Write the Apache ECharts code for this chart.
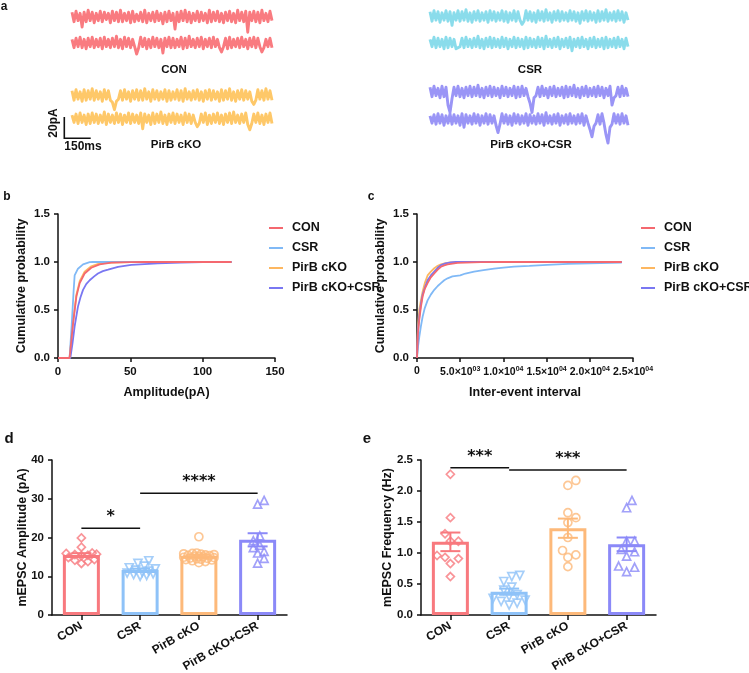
<!DOCTYPE html>
<html>
<head>
<meta charset="utf-8">
<script src="https://cdn.jsdelivr.net/npm/echarts/dist/echarts.min.js"></script>
<style>html,body{margin:0;padding:0;background:#fff}#main{width:749px;height:673px}</style>
</head>
<body>
<div id="main"></div>
<script>
var FONT = 'Liberation Sans, Arial, Helvetica, sans-serif';
var groups = ['CON', 'CSR', 'PirB cKO', 'PirB cKO+CSR'];

// panel a: example traces (pA), 100 samples each
var conTrace1 = [5,-4,6,-3,4,-9,5,-4,7,-3, 5,-5,4,-3,6,-4,5,-2,4,-5, 6,-3,5,-4,7,-4,4,-3,5,-5, 6,-4,3,-3,5,-4,7,-5,4,-3, 5,-4,6,-3,4,-6,5,-4,6,-3,
  4,-11,5,-4,6,-3,7,-4,5,-5, 4,-3,6,-4,5,-3,4,-5,7,-4, 5,-3,6,-4,4,-5,5,-3,6,-4, 4,-5,7,-3,5,-4,6,-14,5,-3, 6,-4,5,-5,7,-3,4,-4,6,-3];
var conTrace2 = [4,-4,5,-3,6,-4,4,-5,5,-3, 6,-4,4,-3,5,-5,6,-3,4,-4, 5,-3,7,-4,4,-5,6,-3,5,-4, 4,-3,-10,-4,6,-3,5,-5,4,-4, 6,-3,5,-4,4,-9,5,-3,6,-4,
  5,-4,4,-3,6,-5,5,-4,7,-3, 4,-4,5,-3,6,-5,4,-3,5,-4, 6,-3,4,-4,-8,-3,5,-5,6,-4, 4,-3,5,-4,6,-3,4,-5,5,-3, 6,-4,5,-3,-8,-4,4,-3,5,-4];
var ckoTrace1 = [5,-4,6,-3,4,-5,6,-4,5,-3, 7,-4,5,-3,4,-5,6,-3,5,-4, -6,-13,-5,-3,5,-4,6,-3,4,-5, 5,-3,6,-4,5,-4,7,-3,4,-5, 6,-3,5,-4,4,-3,6,-5,5,-4,
  4,-3,6,-4,5,-5,7,-3,4,-4, 5,-3,6,-4,4,-5,5,-3,6,-4, 5,-3,4,-5,6,-4,5,-3,7,-4, 4,-5,5,-3,6,-4,5,-3,4,-5, -8,-4,6,-3,5,-4,7,-3,5,-4];
var ckoTrace2 = [4,-3,5,-4,6,-3,4,-5,5,-4, 6,-3,5,-4,4,-3,7,-5,5,-3, 4,-4,6,-3,5,-5,4,-3,6,-4, 5,-3,4,-4,6,-9,5,-3,4,-5, 6,-4,5,-3,7,-4,4,-5,5,-3,
  6,-4,5,-3,4,-5,6,-3,5,-4, 4,-3,-7,-4,5,-3,6,-5,4,-4, 5,-3,6,-4,4,-5,5,-3,6,-4, 7,-3,4,-4,5,-3,6,-5,-10,-4, 5,-3,6,-4,4,-5,5,-3,6,-4];
var csrTrace1 = [5,-4,6,-3,5,-5,4,-3,6,-4, 5,-8,4,-3,6,-4,5,-3,7,-4, 4,-5,5,-3,6,-4,4,-3,5,-5, 6,-3,5,-4,4,-3,6,-4,5,-5, 4,-3,6,-4,5,-3,-7,-4,6,-3,
  5,-4,4,-5,6,-3,5,-4,7,-3, 4,-5,5,-3,6,-4,5,-3,4,-4, 6,-3,5,-4,4,-6,5,-3,6,-4, 5,-3,4,-5,6,-4,5,-3,7,-4, 4,-3,5,-4,6,-3,5,-5,4,-3];
var csrTrace2 = [4,-3,6,-4,5,-3,4,-5,6,-4, 5,-3,4,-5,-6,-3,5,-4,6,-3, 4,-4,5,-3,7,-4,4,-5,5,-3, 6,-4,5,-3,4,-4,6,-3,5,-5, 4,-3,6,-4,5,-3,4,-5,6,-4,
  5,-3,4,-4,6,-3,5,-5,7,-3, 4,-4,5,-3,6,-5,4,-3,5,-4, 6,-7,4,-3,5,-4,6,-3,4,-5, 5,-3,6,-4,4,-3,5,-5,6,-4, 4,-3,5,-4,6,-3,4,-5,5,-3];
var kcTrace1 = [5,-4,6,-3,4,-5,6,-4,5,-12, -19,-6,5,-3,6,-4,4,-5,5,-3, 6,-4,5,-3,7,-4,4,-5,5,-3, 6,-4,5,-3,4,-5,6,-3,5,-4, 4,-3,6,-5,5,-4,6,-3,4,-4,
  -10,-19,-5,-3,5,-4,6,-3,4,-5, 5,-3,6,-4,4,-3,5,-5,6,-4, 5,-3,7,-4,4,-5,5,-3,6,-4, 4,-3,5,-4,6,-3,5,-5,4,-3, 6,-12,-5,-3,5,-4,6,-3,4,-4];
var kcTrace2 = [4,-3,5,-4,6,-3,5,-5,4,-3, 6,-4,5,-3,4,-5,6,-7,5,-3, 4,-4,6,-3,5,-5,4,-3,6,-4, 5,-3,4,-5,-12,-4,6,-3,5,-4, 4,-5,6,-3,5,-4,4,-3,6,-5,
  5,-3,4,-4,6,-3,5,-5,7,-3, 4,-4,5,-3,6,-5,4,-3,5,-4, 6,-3,4,-4,5,-3,6,-5,4,-3, -9,-16,-6,-3,5,-4,6,-3,-14,-22, -7,-4,6,-3,5,-4,6,-3,4,-5];

// panel b: cumulative probability vs amplitude (pA)
var conAmp = [[0,0],[8,0],[10.4,0.36],[12.7,0.64],[15,0.78],[18.4,0.88],[23,0.94],[28.8,0.975],[36.9,0.993],[50,0.998],[60,1],[120,1]];
var csrAmp = [[0,0],[8,0],[9.5,0.35],[10.8,0.7],[11.5,0.86],[13.8,0.93],[17.3,0.975],[21.9,0.998],[24,1],[120,1]];
var ckoAmp = [[0,0],[8,0],[10.4,0.37],[12.7,0.66],[15,0.8],[18.4,0.9],[23,0.955],[28.8,0.985],[36.9,0.995],[50,1],[120,1]];
var kcAmp = [[0,0],[8.5,0],[10,0.15],[11.5,0.33],[13.8,0.535],[15.5,0.63],[17.3,0.71],[19.5,0.77],[21.9,0.81],[25,0.85],[27.6,0.88],[31,0.905],
  [34.6,0.92],[41.5,0.95],[50.7,0.97],[69,0.985],[85,0.993],[100,1],[120,1]];

// panel c: cumulative probability vs inter-event interval (ms)
var conIei = [[0,0],[100,0.25],[265,0.4],[450,0.53],[650,0.64],[900,0.72],[1225,0.78],[1600,0.84],[2000,0.88],[2400,0.92],[2770,0.95],[3150,0.965],
  [3540,0.975],[4690,0.99],[7400,0.998],[10000,1],[23700,1]];
var csrIei = [[0,0],[120,0.12],[265,0.22],[450,0.33],[650,0.43],[900,0.52],[1225,0.6],[1600,0.66],[2000,0.71],[2400,0.75],[2770,0.78],[3150,0.81],
  [3540,0.83],[4100,0.85],[5000,0.86],[5600,0.88],[6610,0.9],[7700,0.915],[8920,0.93],[10000,0.942],[11230,0.952],[13000,0.96],[15080,0.97],
  [17500,0.98],[20000,0.987],[23700,0.995]];
var ckoIei = [[0,0],[100,0.32],[265,0.5],[450,0.6],[650,0.69],[900,0.78],[1225,0.86],[1600,0.9],[2000,0.935],[2400,0.96],[2770,0.975],[3300,0.988],
  [3900,0.995],[5000,1],[23700,1]];
var kcIei = [[0,0],[100,0.27],[265,0.43],[450,0.56],[650,0.66],[900,0.73],[1225,0.81],[1600,0.86],[2000,0.9],[2400,0.94],[2770,0.968],[3300,0.985],
  [3900,0.995],[4500,1],[23700,1]];

// panel d: mEPSC amplitude (pA)
var ampMean = [15.5, 11.6, 15.3, 19.4];
var ampSem = [0.45, 0.35, 0.3, 1.7];
var ampCon = [19.9, 17.5, 16.0, 15.9, 15.7, 15.6, 15.4, 15.3, 14.8, 14.3, 14.1, 13.8, 13.3];
var ampCsr = [14.0, 13.3, 12.6, 12.2, 11.9, 11.6, 11.3, 11.0, 10.8, 10.6, 10.4, 10.2, 10.0];
var ampCko = [20.2, 16.0, 15.9, 15.8, 15.7, 15.6, 15.5, 15.4, 15.3, 15.2, 15.1, 15.0, 14.9, 14.8, 14.7, 14.6, 14.5, 14.4, 14.3, 14.2, 14.0, 13.8, 13.5];
var ampKc = [29.6, 28.6, 20.4, 19.2, 18.0, 17.4, 16.4, 16.0, 14.6, 13.4];
var ampSig = [[0, 1, 22.4, '*'], [1, 3, 31.4, '****']];

// panel e: mEPSC frequency (Hz)
var freqMean = [1.18, 0.376, 1.40, 1.14];
var freqSem = [0.15, 0.05, 0.155, 0.11];
var freqCon = [2.27, 1.57, 1.31, 1.19, 1.19, 0.96, 0.93, 0.91, 0.83, 0.62];
var freqCsr = [0.64, 0.62, 0.54, 0.45, 0.40, 0.33, 0.30, 0.27, 0.24, 0.22, 0.19, 0.16];
var freqCko = [2.17, 2.09, 1.65, 1.57, 1.49, 1.25, 1.04, 0.97, 0.93, 0.78];
var freqKc = [1.85, 1.73, 1.19, 1.19, 1.06, 1.02, 0.95, 0.79, 0.77, 0.70];
var freqSig = [[0, 1, 2.375, '***'], [1, 3, 2.34, '***']];

var traceColors = ['#F97B80', '#8ADCEB', '#FEC869', '#9A95F6'];
var curveColors = ['#F4686F', '#80B9F6', '#FDB760', '#7977F2'];
var barColors = ['#F8797E', '#8EC2F8', '#FDB97A', '#8B89F8'];
var INK = '#111';

var chart = echarts.init(document.getElementById('main'));

var grids = [], xAxes = [], yAxes = [], series = [];

// ---- panel a traces: one small hidden grid per trace, 20 pA = 21 px
var traces = [
  {d: conTrace1, c: 0, left: 72, width: 200, y0: 17.5},
  {d: conTrace2, c: 0, left: 72, width: 200, y0: 43.5},
  {d: ckoTrace1, c: 2, left: 72, width: 200, y0: 96},
  {d: ckoTrace2, c: 2, left: 72, width: 200, y0: 119.3},
  {d: csrTrace1, c: 1, left: 430, width: 198, y0: 17},
  {d: csrTrace2, c: 1, left: 430, width: 198, y0: 43.5},
  {d: kcTrace1, c: 3, left: 430, width: 198, y0: 92.5},
  {d: kcTrace2, c: 3, left: 430, width: 198, y0: 120}
];
var pxPerPa = 21 / 20;
traces.forEach(function (t, i) {
  grids.push({left: t.left, width: t.width, top: t.y0 - 10 * pxPerPa, height: 34 * pxPerPa, outerBoundsMode: 'none'});
  xAxes.push({gridIndex: i, type: 'value', min: 0, max: t.d.length - 1, show: false});
  yAxes.push({gridIndex: i, type: 'value', min: -24, max: 10, show: false});
  series.push({
    type: 'line', xAxisIndex: i, yAxisIndex: i, silent: true, showSymbol: false,
    data: t.d.map(function (v, k) { return [k, v]; }),
    lineStyle: {color: traceColors[t.c], width: 2.9, join: 'round'}, itemStyle: {color: traceColors[t.c]}
  });
});

function axisBase(gi) {
  return {
    gridIndex: gi,
    axisLine: {show: true, lineStyle: {color: INK, width: 1.5}},
    axisTick: {show: true, length: 4, lineStyle: {color: INK, width: 1.5}},
    axisLabel: {color: INK, fontSize: 11.5, fontWeight: 'bold', fontFamily: FONT},
    splitLine: {show: false},
    nameLocation: 'middle', nameMoveOverlap: false,
    nameTextStyle: {color: INK, fontSize: 12.5, fontWeight: 'bold', fontFamily: FONT}
  };
}
function merge(a, b) { for (var k in b) a[k] = b[k]; return a; }
function oneDec(v) { return v.toFixed(1); }

// ---- panel b
grids.push({left: 58, top: 214, width: 217, height: 144, outerBoundsMode: 'none'});
xAxes.push(merge(axisBase(8), {type: 'value', min: 0, max: 150, interval: 50, name: 'Amplitude(pA)', nameGap: 28}));
yAxes.push(merge(axisBase(8), {type: 'value', min: 0, max: 1.5, interval: 0.5, name: 'Cumulative probability', nameGap: 30}));
yAxes[8].axisLabel.formatter = oneDec;

// ---- panel c
grids.push({left: 417, top: 214, width: 216, height: 144, outerBoundsMode: 'none'});
xAxes.push(merge(axisBase(9), {type: 'value', min: 0, max: 25000, interval: 5000, name: 'Inter-event interval', nameGap: 28}));
yAxes.push(merge(axisBase(9), {type: 'value', min: 0, max: 1.5, interval: 0.5, name: 'Cumulative probability', nameGap: 30}));
yAxes[9].axisLabel.formatter = oneDec;
xAxes[9].axisLabel.fontSize = 10.5;
xAxes[9].axisLabel.formatter = function (v) {
  if (v === 0) return '0';
  var e = Math.floor(Math.log10(v) + 1e-9);
  var m = (v / Math.pow(10, e)).toFixed(1);
  return m + '×10{s|' + (e < 10 ? '0' + e : e) + '}';
};
xAxes[9].axisLabel.rich = {s: {fontSize: 7, fontWeight: 'bold', fontFamily: FONT, color: INK, verticalAlign: 'top', lineHeight: 12}};

var ampCurves = [conAmp, csrAmp, ckoAmp, kcAmp];
var ieiCurves = [conIei, csrIei, ckoIei, kcIei];
[2, 3, 1, 0].forEach(function (g) {
  series.push({name: groups[g], type: 'line', xAxisIndex: 8, yAxisIndex: 8, showSymbol: false, data: ampCurves[g],
    color: curveColors[g], lineStyle: {width: 1.8, color: curveColors[g]}, z: 3});
});
[2, 1, 3, 0].forEach(function (g) {
  series.push({name: groups[g], type: 'line', xAxisIndex: 9, yAxisIndex: 9, showSymbol: false, data: ieiCurves[g],
    color: curveColors[g], lineStyle: {width: 1.8, color: curveColors[g]}, z: 3});
});

// ---- panels d and e
function catAxis(gi) {
  var a = merge(axisBase(gi), {type: 'category', data: groups});
  a.axisTick.alignWithLabel = true;
  a.axisTick.length = 5;
  a.axisLabel.rotate = 30;
  a.axisLabel.margin = 10;
  a.axisLabel.fontSize = 12;
  a.axisLabel.interval = 0;
  return a;
}
grids.push({left: 52, top: 460, width: 235, height: 155, outerBoundsMode: 'none'});
xAxes.push(catAxis(10));
yAxes.push(merge(axisBase(10), {type: 'value', min: 0, max: 40, interval: 10, name: 'mEPSC Amplitude (pA)', nameGap: 23}));
grids.push({left: 421, top: 460, width: 235, height: 155, outerBoundsMode: 'none'});
xAxes.push(catAxis(11));
yAxes.push(merge(axisBase(11), {type: 'value', min: 0, max: 2.5, interval: 0.5, name: 'mEPSC Frequency (Hz)', nameGap: 27}));
yAxes[11].axisLabel.formatter = oneDec;

// beeswarm offsets (px): spread points sideways, but stay within maxOff;
// when nothing is free there, take the least crowded spot
function swarm(values, pxPerUnit, gap, maxOff) {
  var order = values.map(function (v, i) { return i; }).sort(function (a, b) { return values[a] - values[b]; });
  var placed = [], offs = [];
  order.forEach(function (i) {
    var y = values[i] * pxPerUnit, best = 0, bestD = -1;
    for (var k = 0; ; k++) {
      var off = (k % 2 ? 1 : -1) * Math.ceil(k / 2) * gap / 3;
      if (Math.abs(off) > maxOff) break;
      var dmin = Infinity;
      placed.forEach(function (p) { dmin = Math.min(dmin, Math.sqrt((p[0] - off) * (p[0] - off) + (p[1] - y) * (p[1] - y))); });
      if (dmin >= gap - 0.01) { best = off; bestD = dmin; break; }
      if (dmin > bestD) { bestD = dmin; best = off; }
    }
    placed.push([best, y]);
    offs[i] = best;
  });
  return offs;
}

var symbols = [
  {symbol: 'diamond', rotate: 0},
  {symbol: 'triangle', rotate: 180},
  {symbol: 'circle', rotate: 0},
  {symbol: 'triangle', rotate: 0}
];

function barPanel(gi, means, sems, pts, pxPerUnit, gap, sigs) {
  series.push({
    type: 'bar', xAxisIndex: gi, yAxisIndex: gi, barWidth: 37, silent: true, z: 2,
    data: means.map(function (v, i) { return {value: v, itemStyle: {color: '#fff', borderColor: barColors[i], borderWidth: 3}}; })
  });
  pts.forEach(function (vals, g) {
    var offs = swarm(vals, pxPerUnit, gap, 17);
    series.push({
      type: 'scatter', xAxisIndex: gi, yAxisIndex: gi, silent: true, z: 3,
      symbol: symbols[g].symbol, symbolRotate: symbols[g].rotate, symbolSize: 8,
      itemStyle: {color: 'rgba(255,255,255,0)', borderColor: barColors[g], borderWidth: 1.7},
      data: vals.map(function (v, k) { return {value: [g, v], symbolOffset: [offs[k], 0]}; })
    });
  });
  series.push({
    type: 'custom', xAxisIndex: gi, yAxisIndex: gi, silent: true, z: 4,
    encode: {x: 0, y: 1},
    data: means.map(function (m, i) { return [i, m, sems[i]]; }),
    renderItem: function (params, api) {
      var x = api.value(0), m = api.value(1), s = api.value(2);
      var t = api.coord([x, m + s]), b = api.coord([x, m - s]);
      var st = {stroke: barColors[x], lineWidth: 2};
      return {type: 'group', children: [
        {type: 'line', shape: {x1: t[0], y1: t[1], x2: b[0], y2: b[1]}, style: st},
        {type: 'line', shape: {x1: t[0] - 10, y1: t[1], x2: t[0] + 10, y2: t[1]}, style: st},
        {type: 'line', shape: {x1: b[0] - 10, y1: b[1], x2: b[0] + 10, y2: b[1]}, style: st}
      ]};
    }
  });
  series.push({
    type: 'custom', xAxisIndex: gi, yAxisIndex: gi, silent: true, z: 5,
    encode: {x: [0, 1], y: 2},
    data: sigs.map(function (s) { return [s[0], s[1], s[2]]; }),
    renderItem: function (params, api) {
      var a = api.coord([api.value(0), api.value(2)]);
      var b = api.coord([api.value(1), api.value(2)]);
      return {type: 'group', children: [
        {type: 'line', shape: {x1: a[0], y1: a[1], x2: b[0], y2: b[1]}, style: {stroke: INK, lineWidth: 1.5}},
        {type: 'text', x: (a[0] + b[0]) / 2, y: a[1] - 3, style: {text: sigs[params.dataIndex][3], fill: INK,
          fontSize: 16, fontWeight: 'bold', fontFamily: 'DejaVu Sans', align: 'center', verticalAlign: 'bottom'}}
      ]};
    }
  });
}
barPanel(10, ampMean, ampSem, [ampCon, ampCsr, ampCko, ampKc], 155 / 40, 6.5, ampSig);
barPanel(11, freqMean, freqSem, [freqCon, freqCsr, freqCko, freqKc], 155 / 2.5, 8, freqSig);

function legendAt(left) {
  return {
    data: groups, orient: 'vertical', left: left, top: 216, selectedMode: false,
    icon: 'rect', itemWidth: 14, itemHeight: 2, itemGap: 6,
    textStyle: {color: INK, fontSize: 12.5, fontWeight: 'bold', fontFamily: FONT, lineHeight: 14, padding: [0, 0, 0, 4]}
  };
}

function txt(x, y, s, size, extra) {
  return merge({type: 'text', x: x, y: y, style: {text: s, fill: INK, fontSize: size, fontWeight: 'bold', fontFamily: FONT,
    align: 'center', verticalAlign: 'middle'}}, extra || {});
}

chart.setOption({
  animation: false,
  backgroundColor: '#fff',
  grid: grids,
  xAxis: xAxes,
  yAxis: yAxes,
  legend: [legendAt(264), legendAt(636)],
  series: series,
  graphic: [
    txt(4, 7, 'a', 12),
    txt(7, 197, 'b', 12),
    txt(371, 197, 'c', 12),
    txt(9, 439, 'd', 15),
    txt(367, 439, 'e', 15),
    txt(174, 70, 'CON', 11.5),
    txt(530, 70, 'CSR', 11.5),
    txt(176, 145, 'PirB cKO', 11.5),
    txt(531, 145, 'PirB cKO+CSR', 11.5),
    {type: 'polyline', shape: {points: [[64.3, 117], [64.3, 138.3], [90.7, 138.3]]}, style: {stroke: INK, lineWidth: 1.6, fill: null}},
    txt(54, 123, '20pA', 12, {rotation: Math.PI / 2}),
    txt(83, 147, '150ms', 12)
  ]
});
</script>
</body>
</html>
